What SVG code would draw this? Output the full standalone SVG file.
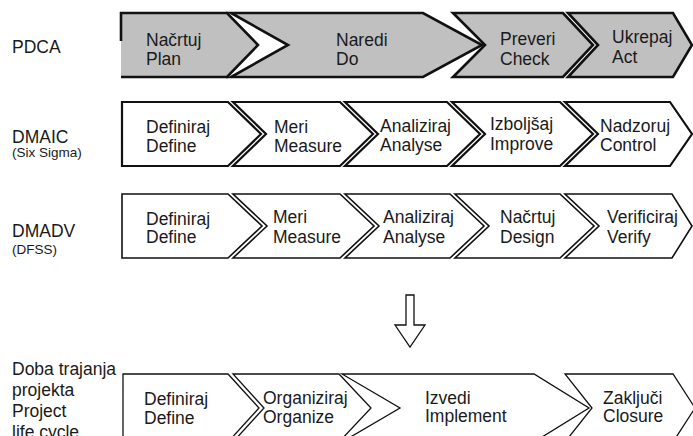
<svg xmlns="http://www.w3.org/2000/svg" width="693" height="436" viewBox="0 0 693 436">
<style>
text{font-family:"Liberation Sans",Arial,sans-serif;font-size:17.5px;fill:#1a1a1a}
.sm{font-size:13.5px}
.g{fill:#c0c0c0;stroke:#111;stroke-width:2.6;stroke-linejoin:miter}
.w1{fill:#fff;stroke:#111;stroke-width:2.2}
.w2{fill:#fff;stroke:#111;stroke-width:1.6}
.w3{fill:#fff;stroke:#111;stroke-width:1.3}
</style>
<g id="labels">
<text x="12" y="53">PDCA</text>
<text x="12" y="143">DMAIC</text>
<text x="12" y="157" class="sm">(Six Sigma)</text>
<text x="12" y="236.5">DMADV</text>
<text x="12" y="254" class="sm">(DFSS)</text>
<text x="12" y="375">Doba trajanja</text>
<text x="12" y="396">projekta</text>
<text x="12" y="417">Project</text>
<text x="12" y="438">life cycle</text>
</g>
<g id="pdca-plan">
<polygon points="121,13 227,13 258,45 227,77 121,77" fill="#c0c0c0"/>
<path d="M121,41 V13 H227 L258,45 L227,77 H121" fill="none" stroke="#111" stroke-width="2.6"/>
<text x="146" y="46">Načrtuj</text><text x="146" y="65">Plan</text>
</g>
<g id="pdca-do">
<polygon class="g" points="231,13 423,13 482,45 423,77 231,77 288,45"/>
<text x="336" y="46">Naredi</text><text x="336" y="65">Do</text>
</g>
<g id="pdca-check">
<polygon class="g" points="453,13 563,13 593,45 563,77 453,77 485,45"/>
<text x="500" y="45">Preveri</text><text x="500" y="65">Check</text>
</g>
<g id="pdca-act">
<polygon class="g" points="568,13 673,13 692,45 673,77 568,77 598,45"/>
<text x="612" y="43">Ukrepaj</text><text x="612" y="63">Act</text>
</g>
<g id="dmaic-define">
<polygon class="w1" points="122,102 228,102 261,134 228,166 122,166"/>
<text x="146" y="133">Definiraj</text><text x="146" y="152">Define</text>
</g>
<g id="dmaic-measure">
<polygon class="w1" points="233,102 340,102 373,134 340,166 233,166 266,134"/>
<text x="274" y="133">Meri</text><text x="274" y="152">Measure</text>
</g>
<g id="dmaic-analyse">
<polygon class="w1" points="345,102 447,102 480,134 447,166 345,166 378,134"/>
<text x="380" y="132">Analiziraj</text><text x="380" y="151">Analyse</text>
</g>
<g id="dmaic-improve">
<polygon class="w1" points="452,102 560,102 593,134 560,166 452,166 485,134"/>
<text x="490" y="130">Izboljšaj</text><text x="490" y="150">Improve</text>
</g>
<g id="dmaic-control">
<polygon class="w1" points="565,102 670,102 692,134 670,166 565,166 598,134"/>
<text x="600" y="132">Nadzoruj</text><text x="600" y="151">Control</text>
</g>
<g id="dmadv-define">
<polygon class="w2" points="122,194 228,194 262,226 228,258 122,258"/>
<text x="146" y="225">Definiraj</text><text x="146" y="243">Define</text>
</g>
<g id="dmadv-measure">
<polygon class="w2" points="233,194 340,194 374,226 340,258 233,258 267,226"/>
<text x="273" y="223">Meri</text><text x="273" y="243">Measure</text>
</g>
<g id="dmadv-analyse">
<polygon class="w2" points="345,194 450,194 484,226 450,258 345,258 379,226"/>
<text x="383" y="223">Analiziraj</text><text x="383" y="243">Analyse</text>
</g>
<g id="dmadv-design">
<polygon class="w2" points="455,194 560,194 594,226 560,258 455,258 489,226"/>
<text x="500" y="223">Načrtuj</text><text x="500" y="243">Design</text>
</g>
<g id="dmadv-verify">
<polygon class="w2" points="565,194 672,194 692,226 672,258 565,258 599,226"/>
<text x="607" y="223">Verificiraj</text><text x="607" y="243">Verify</text>
</g>
<g id="connectors">
<polygon points="406,295 414,295 414,325 425,325 410,347 395,325 406,325" fill="#fff" stroke="#111" stroke-width="1.3" stroke-linejoin="miter"/>
</g>
<g id="plc-define">
<polygon class="w3" points="123,374 228,374 259,408 228,442 123,442"/>
<text x="144" y="405">Definiraj</text><text x="144" y="424">Define</text>
</g>
<g id="plc-organize">
<polygon class="w3" points="233,374 339,374 371,408 339,442 233,442 264,408"/>
<text x="263" y="404">Organiziraj</text><text x="263" y="423">Organize</text>
</g>
<g id="plc-implement">
<polygon class="w3" points="342,374 534,374 589,408 534,442 342,442 400,408"/>
<text x="425" y="404">Izvedi</text><text x="425" y="422">Implement</text>
</g>
<g id="plc-closure">
<polygon class="w3" points="565,374 673,374 695,408 673,442 565,442 592,408"/>
<text x="603" y="404">Zaključi</text><text x="603" y="422">Closure</text>
</g>
</svg>
